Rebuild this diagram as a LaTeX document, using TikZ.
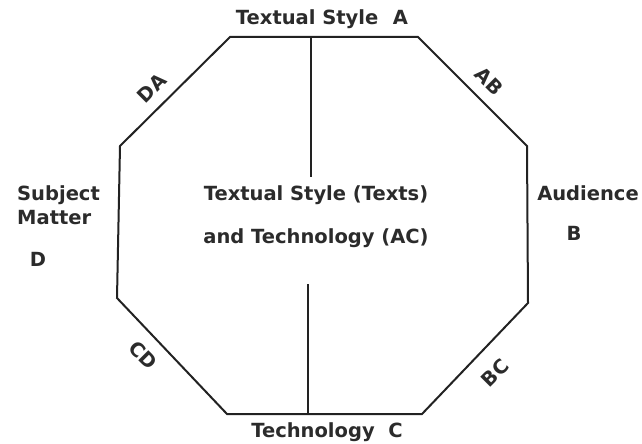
\documentclass[tikz,border=0pt]{standalone}
\usepackage{fontspec}
\setmainfont{DejaVu Sans}
\definecolor{ink}{HTML}{222222}
\definecolor{txt}{HTML}{2B2B2B}
\begin{document}
\begin{tikzpicture}[x=1pt,y=-1pt,
  edge/.style={draw=ink,line width=2pt,line join=miter},
  lbl/.style={text=txt,font=\fontsize{19.5}{23}\selectfont\bfseries,inner sep=0pt}]
\useasboundingbox (0,0) rectangle (642,444);
% octagon vertices
\coordinate (p1) at (230,37);
\coordinate (p2) at (418,37);
\coordinate (p3) at (527,146);
\coordinate (p4) at (528,303);
\coordinate (p5) at (422,414);
\coordinate (p6) at (227,414);
\coordinate (p7) at (117,298);
\coordinate (p8) at (120,146);
\draw[edge] (p1) -- (p2) -- (p3) -- (p4) -- (p5) -- (p6) -- (p7) -- (p8) -- cycle;
% centre line
\coordinate (t0) at (311,37);
\coordinate (t1) at (311,177);
\coordinate (b0) at (308,284);
\coordinate (b1) at (308,414);
\draw[edge] (t0) -- (t1);
\draw[edge] (b0) -- (b1);
% labels
\node[lbl] (A) at (322,19) {Textual Style\hspace{0.75em}A};
\node[lbl] (C) at (327,432) {Technology\hspace{0.7em}C};
\node[lbl] (mid1) at (316,195) {Textual Style (Texts)};
\node[lbl] (mid2) at (316,238) {and Technology (AC)};
\node[lbl,anchor=west] (subj1) at (17,195) {Subject};
\node[lbl,anchor=west] (subj2) at (17,218) {Matter};
\node[lbl] (D) at (38,259) {D};
\node[lbl] (aud) at (588,193) {Audience};
\node[lbl] (B) at (574,233) {B};
\node[lbl,rotate=45] (DA) at (152,88) {DA};
\node[lbl,rotate=-45] (AB) at (489,81) {AB};
\node[lbl,rotate=-45] (CD) at (143,355) {CD};
\node[lbl,rotate=45] (BC) at (495,373) {BC};
\end{tikzpicture}
\end{document}
